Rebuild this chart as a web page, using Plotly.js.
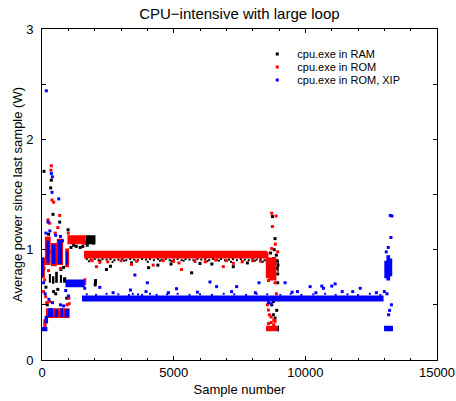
<!DOCTYPE html>
<html>
<head>
<meta charset="utf-8">
<script src="https://cdn.plot.ly/plotly-3.0.1.min.js"></script>
<style>html,body{margin:0;padding:0;background:#fff;} #chart{width:456px;height:401px;}</style>
</head>
<body>
<div id="chart"></div>
<script>
// ---------- Data ----------
const seriesNames = ["cpu.exe in RAM", "cpu.exe in ROM", "cpu.exe in ROM, XIP"];

// Dense runs of samples, given as value ranges: sample from..to, power from..to
const ramRunX0 = [1662, 260, 380, 500, 680, 800, 8920, 8935];
const ramRunX1 = [2031, 340, 470, 600, 760, 920, 9000, 8990];
const ramRunY0 = [1.05, 0.70, 0.69, 0.70, 0.70, 0.70, 0.26, 0.80];
const ramRunY1 = [1.13, 0.78, 0.76, 0.80, 0.77, 0.75, 0.31, 0.90];

const romRunX0 = [0, 110, 340, 560, 880, 150, 50, 966, 1580, 1597, 8500, 8600, 8509];
const romRunX1 = [110, 330, 560, 800, 1030, 1050, 170, 1662, 1680, 8534, 8600, 8900, 8960];
const romRunY0 = [0.74, 0.86, 0.85, 0.86, 0.84, 0.38, 0.30, 1.05, 0.68, 0.92, 0.74, 0.72, 0.26];
const romRunY1 = [0.93, 1.12, 1.06, 1.10, 1.01, 0.47, 0.37, 1.13, 0.74, 0.99, 0.98, 0.93, 0.31];

const xipRunX0 = [0, 170, 380, 600, 910, 0, 100, 228, 483, 700, 863, 890, 1521, 13000, 13080, 13220, 12990];
const xipRunX1 = [70, 280, 510, 760, 980, 205, 230, 418, 608, 799, 1027, 1624, 12969, 13080, 13220, 13300, 13330];
const xipRunY0 = [0.76, 0.88, 0.87, 0.87, 0.86, 0.26, 0.33, 0.39, 0.39, 0.39, 0.39, 0.66, 0.53, 0.74, 0.72, 0.76, 0.26];
const xipRunY1 = [0.93, 1.08, 1.05, 1.09, 0.98, 0.30, 0.40, 0.47, 0.46, 0.47, 0.46, 0.73, 0.585, 0.90, 0.95, 0.92, 0.31];

// Fine speckle of samples hugging the dense runs
const ramSpeckX = [1700, 1850, 2000, 2150, 2300, 2450, 2600, 2750, 2900, 3050, 3200, 3350, 3500, 3650, 3800,
  3950, 4100, 4250, 4400, 4550, 4700, 4850, 5000, 5150, 5300, 5450, 5600, 5750, 5900, 6050, 6200,
  6350, 6500, 6650, 6800, 6950, 7100, 7250, 7400, 7550, 7700, 7850, 8000, 8150, 8300, 8450,
  1780, 2220, 2680, 3120, 3580, 4020, 4480, 4920, 5380, 5820, 6280, 6720, 7180, 7620, 8080, 8380];
const ramSpeckY = [0.915, 0.91, 0.915, 0.905, 0.915, 0.91, 0.915, 0.905, 0.91, 0.915, 0.905, 0.915, 0.91, 0.905, 0.915,
  0.91, 0.915, 0.905, 0.915, 0.91, 0.915, 0.905, 0.91, 0.915, 0.905, 0.915, 0.91, 0.905, 0.915, 0.91, 0.915,
  0.905, 0.915, 0.91, 0.915, 0.905, 0.91, 0.915, 0.905, 0.915, 0.91, 0.905, 0.915, 0.91, 0.915, 0.905,
  0.895, 0.90, 0.89, 0.90, 0.895, 0.89, 0.90, 0.895, 0.90, 0.89, 0.895, 0.90, 0.89, 0.895, 0.90, 0.89];
const xipSpeckX = [1700, 2050, 2450, 2900, 3300, 3450, 3650, 3800, 4100, 4350, 4750, 5150, 5600, 6000, 6450,
  6900, 7300, 7750, 8150, 8550, 9050, 9450, 9850, 10300, 10750, 11150, 11600, 12000, 12450, 12850];
const xipSpeckY = [0.595, 0.59, 0.60, 0.595, 0.59, 0.60, 0.595, 0.59, 0.60, 0.59, 0.595, 0.60, 0.59, 0.595, 0.59,
  0.60, 0.595, 0.59, 0.60, 0.595, 0.59, 0.60, 0.59, 0.595, 0.60, 0.59, 0.595, 0.59, 0.60, 0.59];

// Isolated samples
const ramX = [76, 355, 330, 418, 672, 989, 250, 180, 300, 440, 520, 600, 150, 820, 720, 200, 940, 1010,
  1200, 1300, 1450, 1550, 1100, 1620, 2029, 2035, 2020, 1950, 1720,
  2447, 4047, 5682, 7265, 3398, 6450, 2600, 4900, 7800, 4400, 6000,
  8600, 8700, 8800, 8850, 8900, 8950, 8750, 8900, 8680, 8820, 8787, 8724, 8787, 8914, 8850, 8750,
  8850, 8930, 8960, 8950];
const ramY = [1.71, 1.63, 1.56, 1.32, 1.25, 1.18, 1.14, 1.10, 0.98, 0.62, 0.60, 0.64, 0.66, 0.84, 0.82, 0.50, 0.56, 0.57,
  1.04, 1.03, 1.02, 1.03, 1.02, 1.06, 0.70, 0.72, 0.68, 1.06, 1.04,
  0.82, 0.837, 0.79, 0.846, 0.88, 0.87, 0.85, 0.87, 0.88, 0.86, 0.875,
  0.85, 0.80, 0.92, 0.88, 0.83, 0.78, 0.75, 0.95, 0.97, 1.00, 0.53, 0.50, 0.41, 0.45, 0.38, 1.30,
  1.10, 0.90, 0.86, 0.70];

const romX = [355, 340, 380, 444, 228, 292, 672, 600, 500, 101, 140, 292, 1014, 60, 180, 80, 250, 700, 950, 1030, 1000,
  2067, 2194, 4222, 5300, 6885, 7265, 3398, 2500, 3000, 3600, 4600, 5000, 5800, 6200, 6600, 7000, 7600, 8000, 8300, 1900, 5200,
  8724, 8889, 8750, 8724, 8860, 8597, 8636, 8700, 8850, 8600, 8900, 8800, 8560, 8950, 8540,
  8600, 8700, 8800, 8850];
const romY = [1.76, 1.72, 1.45, 1.43, 1.27, 1.24, 1.31, 1.20, 1.15, 0.725, 0.574, 0.529, 0.56, 0.62, 0.52, 0.83, 0.81, 0.83, 0.50, 0.51, 1.15,
  0.846, 0.885, 0.86, 0.82, 0.846, 0.876, 0.867, 0.89, 0.90, 0.895, 0.90, 0.895, 0.90, 0.89, 0.905, 0.90, 0.89, 0.90, 0.895, 0.90, 0.88,
  1.33, 1.305, 1.21, 1.01, 1.05, 0.453, 0.41, 0.39, 0.70, 0.72, 0.60, 0.36, 0.50, 0.98, 0.90,
  0.33, 0.34, 0.32, 0.35];

const xipX = [165, 355, 393, 380, 634, 228, 150, 300, 520, 700, 780, 60, 120, 260, 400, 700, 820, 900, 1000,
  3527, 6379, 9231, 10182, 10626, 11006, 11133, 12084, 13225, 13289, 13250, 13073, 13150, 13162, 13200, 13100, 13000, 13270,
  3360, 6632, 7392, 5110, 2194, 1623, 10689, 2700, 3950, 4800, 5900, 7200, 8100, 9500, 10400, 11800, 12700,
  4000, 8240, 8600, 8700, 9700, 11400];
const xipY = [2.44, 1.69, 1.66, 1.52, 1.46, 1.25, 1.15, 1.17, 1.13, 1.12, 1.08, 0.70, 0.60, 0.55, 0.52, 0.50, 0.49, 0.63, 0.58,
  0.77, 0.707, 0.70, 0.665, 0.67, 0.67, 0.69, 0.65, 1.31, 1.305, 1.11, 0.98, 1.02, 0.41, 0.45, 0.60, 0.62, 0.50,
  0.634, 0.665, 0.665, 0.646, 0.658, 0.65, 0.65, 0.61, 0.62, 0.61, 0.615, 0.62, 0.61, 0.615, 0.61, 0.62, 0.61,
  0.70, 0.70, 0.52, 0.51, 0.62, 0.62];

const xTickVals = [0, 5000, 10000, 15000];
const xTickText = ["0", "5000", "10000", "15000"];
const yTickVals = [0, 0.5, 1, 1.5, 2, 2.5, 3];
const yTickText = ["0", "", "1", "", "2", "", "3"];

// ---------- Drawing ----------
const colors = ["#000000", "#ff0000", "#0000ff"];

function runTrace(x0s, x1s, y0s, y1s, color) {
  const xs = [], ys = [];
  for (let i = 0; i < x0s.length; i++) {
    xs.push(x0s[i], x1s[i], x1s[i], x0s[i], x0s[i], null);
    ys.push(y0s[i], y0s[i], y1s[i], y1s[i], y0s[i], null);
  }
  return {type: "scatter", mode: "none", x: xs, y: ys, fill: "toself",
          fillcolor: color, showlegend: false, hoverinfo: "skip"};
}
function speckTrace(xs, ys, color) {
  return {type: "scatter", mode: "markers", x: xs, y: ys, showlegend: false, hoverinfo: "skip",
          marker: {symbol: "square", size: 2, color: color, line: {width: 0}}};
}
function ptTrace(xs, ys, color, name, legendId) {
  return {type: "scatter", mode: "markers", x: xs, y: ys, name: name, legend: legendId,
          marker: {symbol: "square", size: 3, color: color, line: {width: 0}}};
}

const traces = [
  runTrace(ramRunX0, ramRunX1, ramRunY0, ramRunY1, colors[0]),
  speckTrace(ramSpeckX, ramSpeckY, colors[0]),
  ptTrace(ramX, ramY, colors[0], seriesNames[0], "legend"),
  runTrace(romRunX0, romRunX1, romRunY0, romRunY1, colors[1]),
  ptTrace(romX, romY, colors[1], seriesNames[1], "legend2"),
  runTrace(xipRunX0, xipRunX1, xipRunY0, xipRunY1, colors[2]),
  speckTrace(xipSpeckX, xipSpeckY, colors[2]),
  ptTrace(xipX, xipY, colors[2], seriesNames[2], "legend3")
];

const font = "Liberation Sans, Arial, sans-serif";
function legendAt(yPaper) {
  return {x: 0.545, y: yPaper, xanchor: "left", yanchor: "middle",
          bgcolor: "rgba(0,0,0,0)", borderwidth: 0, font: {size: 11, family: font, color: "#000"},
          itemsizing: "trace"};
}
const layout = {
  width: 456, height: 401,
  margin: {l: 42, r: 19, t: 29, b: 41, pad: 0},
  paper_bgcolor: "#fff", plot_bgcolor: "#fff",
  font: {family: font, size: 13, color: "#000"},
  title: {text: "CPU\u2212intensive with large loop", font: {family: font, size: 15, color: "#000"},
          x: 0.525, xanchor: "center", y: 0.965, yanchor: "middle", yref: "container"},
  xaxis: {range: [0, 15000], showgrid: false, zeroline: false,
          showline: true, linecolor: "#000", linewidth: 1, mirror: "ticks",
          ticks: "inside", ticklen: 4, tickcolor: "#000",
          tickvals: xTickVals, ticktext: xTickText, tickfont: {size: 13},
          minor: {dtick: 1000, tick0: 0, ticks: "inside", ticklen: 2, tickcolor: "#000", showgrid: false},
          title: {text: "Sample number", font: {size: 13}, standoff: 6}},
  yaxis: {range: [0, 3], showgrid: false, zeroline: false,
          showline: true, linecolor: "#000", linewidth: 1, mirror: "ticks",
          ticks: "inside", ticklen: 4, tickcolor: "#000", ticklabelstandoff: 5,
          tickvals: yTickVals, ticktext: yTickText, tickfont: {size: 13},
          title: {text: "Average power since last sample (W)", font: {size: 13}, standoff: 0}},
  legend: legendAt((360 - 54) / 331),
  legend2: legendAt((360 - 67) / 331),
  legend3: legendAt((360 - 80) / 331),
  showlegend: true
};

Plotly.newPlot("chart", traces, layout, {staticPlot: true, displayModeBar: false});
</script>
</body>
</html>
